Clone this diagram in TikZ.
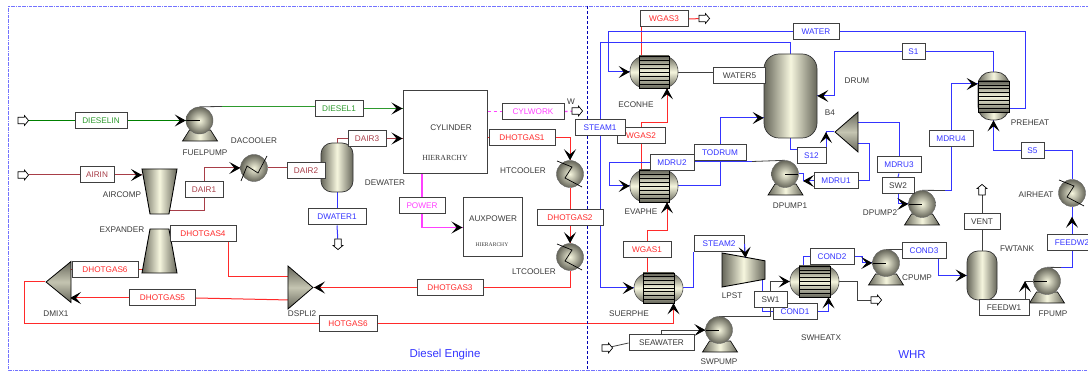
\documentclass[tikz,border=0pt]{standalone}
\usepackage{fontspec}
\setmainfont{Liberation Sans}
\newfontfamily\serifhier{Liberation Serif}
\usepackage{xcolor}
\usetikzlibrary{shapes.geometric,shapes.arrows,arrows.meta,backgrounds,calc,decorations.markings}

\definecolor{unitdark}{HTML}{66665A}
\definecolor{unitlight}{HTML}{F6F6DE}
\definecolor{dieselgreen}{HTML}{2E9A2E}
\definecolor{airbrown}{HTML}{A83E48}
\definecolor{hotred}{HTML}{FF2A2A}
\definecolor{waterblue}{HTML}{3434FF}
\definecolor{workpink}{HTML}{FF40FF}
\definecolor{tagtext}{HTML}{3A3A3A}

% Draws the zigzag that crosses a cooler
\newcommand{\coolerzig}[2]{\draw[black,line width=0.7pt,shift={(#1.center)},rotate=#2] (-13,13) -- (-7,-2) -- (4,5) -- (13,-12);}

\begin{document}
\begin{tikzpicture}[x=1pt, y=-1pt, font=\fontsize{8.2}{9.8}\selectfont,
    streamtag/.style={draw=black!75, fill=white, line width=1pt, minimum height=16pt, inner sep=0pt},
    tagdiesel/.style={streamtag, text=dieselgreen},
    tagair/.style={streamtag, text=airbrown},
    taghot/.style={streamtag, text=hotred},
    tagblue/.style={streamtag, text=waterblue},
    tagpink/.style={streamtag, text=workpink},
    tagplain/.style={streamtag, text=tagtext},
    unitname/.style={text=tagtext, inner sep=0pt},
    block/.style={draw=black!75, fill=white, line width=1pt, inner sep=0pt},
    ballunit/.style={circle, draw=black!60, inner color=unitlight, outer color=unitdark, minimum size=#1, inner sep=0pt},
    ballunit/.default=27pt,
    pumpleft/.style={ballunit, path picture={\draw[black,line width=0.6pt] (path picture bounding box.center) -- (path picture bounding box.west);}},
    pumpright/.style={ballunit, path picture={\draw[black,line width=0.6pt] (path picture bounding box.center) -- (path picture bounding box.east);}},
    pumpbase/.style={trapezium, trapezium stretches=true, trapezium left angle=71.6, trapezium right angle=71.6, draw=black, line width=0.6pt,
        minimum width=35pt, minimum height=11pt, inner sep=0.5pt, left color=unitdark, right color=unitdark, middle color=unitlight},
    cone/.style={trapezium, trapezium stretches=true, trapezium left angle=67, trapezium right angle=67, draw=black, line width=0.9pt,
        inner sep=0.5pt, left color=unitdark, right color=unitdark, middle color=unitlight},
    wedge/.style={isosceles triangle, isosceles triangle stretches, shape border rotate=180, anchor=apex, draw=black, line width=0.8pt,
        inner sep=0.5pt, top color=unitdark, bottom color=unitdark, middle color=unitlight!80!black},
    vesselunit/.style={rectangle, rounded corners=#1, draw=black!80, line width=0.7pt, inner sep=0pt,
        left color=unitdark, right color=unitdark, middle color=unitlight},
    shellunit/.style={rectangle, rounded corners=15pt, draw=black!70, line width=0.6pt, inner sep=0pt,
        top color=unitdark, bottom color=unitdark, middle color=unitlight},
    tubes/.style={rectangle, inner sep=0pt, draw=black, line width=0.6pt, top color=unitdark, bottom color=unitdark, middle color=unitlight,
        path picture={\foreach \i in {1,...,7}
            \draw[black,line width=0.7pt] ($(path picture bounding box.south west)!\i/8!(path picture bounding box.north west)$)
                -- ($(path picture bounding box.south east)!\i/8!(path picture bounding box.north east)$);}},
    portarrow/.style={single arrow, draw=black, fill=white, line width=0.7pt, minimum width=10pt, minimum height=10.5pt,
        single arrow head extend=1.8pt, single arrow tip angle=100, inner sep=2.8pt},
    flow/.style={line width=1pt},
    dieselflow/.style={flow, draw=green!50!black},
    paleflow/.style={flow, draw=dieselgreen},
    airflow/.style={flow, draw=airbrown},
    hotflow/.style={flow, draw=hotred},
    blueflow/.style={flow, draw=waterblue},
    workflow/.style={line width=1.3pt, draw=workpink},
    blackflow/.style={line width=0.8pt, draw=black!75},
    feed/.style={decoration={markings, mark=at position 1 with {\arrow{Stealth[length=11pt,width=12pt,inset=5pt,color=black]}}}, postaction={decorate}}]

\useasboundingbox (0,0) rectangle (1088,371);

% Frame and divider
\draw[blue!55, densely dashdotted, line width=0.6pt] (1090,6) -- (8,6) -- (8,370) -- (1090,370);
\draw[blue!70!black, densely dashed, line width=0.7pt] (587,6) -- (587,370);
\node (dieselarea) at (445,355) [text=waterblue, font=\fontsize{11.5}{14}\selectfont] {Diesel Engine};
\node (whrarea) at (912,355) [text=waterblue, font=\fontsize{11.5}{14}\selectfont] {WHR};

% Feed and product arrows
\node[portarrow] (dieselfeed) at (22,120.5) {};
\node[portarrow] (airfeed) at (22,175) {};
\node[portarrow] (seafeed) at (606,348) {};
\node[portarrow, rotate=-90] (dwaterout) at (338,243) {};
\node[portarrow] (cylworkout) at (576,111) {};
\node[portarrow] (wgasout) at (703,18.5) {};
\node[portarrow, rotate=90] (ventout) at (982,191) {};
\node[portarrow] (swheatxout) at (875,300) {};

% Diesel engine units
\node[pumpbase] (fuelpumpbase) at (200,135.5) {};
\node[pumpleft] (fuelpump) at (199.5,120.5) {};
\node[ballunit] (dacooler) at (254,168) {};
\coolerzig{dacooler}{0}
\node[cone, rotate=180, minimum width=35pt, minimum height=45pt] (aircomp) at (159.5,191.5) {};
\node[cone, minimum width=35pt, minimum height=44pt] (expander) at (159.5,251) {};
\node[wedge, minimum width=41pt, minimum height=25pt] (dmix1) at (45,282) {};
\node[wedge, shape border rotate=0, minimum width=43pt, minimum height=25pt] (dspli2) at (314,287.5) {};
\node[vesselunit=11pt, minimum width=32pt, minimum height=49pt] (dewater) at (337,167.5) {};
\node[block, minimum width=84pt, minimum height=83pt] (cylinder) at (445,132.5) {};
\node[block, minimum width=59pt, minimum height=59pt] (auxpower) at (492.5,227.5) {};
\node[ballunit] (htcooler) at (570,174) {};
\coolerzig{htcooler}{-90}
\node[ballunit] (ltcooler) at (570,257) {};
\coolerzig{ltcooler}{-90}

% WHR units
\node[shellunit, minimum width=48pt, minimum height=32pt] (econhe) at (654,72) {};
\node[tubes, minimum width=30pt, minimum height=32pt] (econhetubes) at (654,72) {};
\node[shellunit, minimum width=48pt, minimum height=32pt] (evaphe) at (654,186) {};
\node[tubes, minimum width=30pt, minimum height=32pt] (evaphetubes) at (654,186) {};
\node[shellunit, minimum width=49pt, minimum height=30pt] (suerphe) at (658.5,288) {};
\node[tubes, minimum width=31pt, minimum height=30pt] (suerphetubes) at (658.5,288) {};
\node[shellunit, minimum width=49pt, minimum height=31pt] (swheatx) at (814.5,281.5) {};
\node[tubes, minimum width=31pt, minimum height=31pt] (swheatxtubes) at (814.5,281.5) {};
\node[vesselunit=15pt, minimum width=53pt, minimum height=84pt] (drum) at (790.5,96) {};
\node[vesselunit=13pt, minimum width=31pt, minimum height=48pt] (preheat) at (993.5,96) {};
\node[tubes, rotate=90, minimum width=31pt, minimum height=31pt] (preheattubes) at (993.5,96.5) {};
\node[vesselunit=11pt, minimum width=30pt, minimum height=49pt] (fwtank) at (982,275.5) {};
\node[cone, rotate=-90, minimum width=34pt, minimum height=43pt] (lpst) at (743.5,270) {};
\node[wedge, minimum width=40pt, minimum height=23pt] (b4) at (834,132) {};
\node[pumpbase] (dpump1base) at (785.5,189.5) {};
\node[pumpright] (dpump1) at (785,174) {};
\node[pumpbase] (dpump2base) at (922,219.5) {};
\node[pumpleft] (dpump2) at (922,204) {};
\node[pumpbase] (cpumpbase) at (886,279.5) {};
\node[pumpleft] (cpump) at (886,263) {};
\node[pumpbase] (swpumpbase) at (720,346.5) {};
\node[pumpleft] (swpump) at (719,330) {};
\node[pumpbase] (fpumpbase) at (1047,297.5) {};
\node[pumpleft] (fpump) at (1047,281) {};
\node[ballunit] (airheat) at (1072,193) {};
\coolerzig{airheat}{-90}

% Stream tags, diesel side
\node[tagdiesel, minimum width=52pt] (dieselin) at (101,120.5) {DIESELIN};
\node[tagdiesel, minimum width=48pt] (diesel1) at (339,108.5) {DIESEL1};
\node[tagair, minimum width=34pt] (airin) at (97,175) {AIRIN};
\node[tagair, minimum width=38pt] (dair1) at (204,190) {DAIR1};
\node[tagair, minimum width=38pt] (dair2) at (306,170.5) {DAIR2};
\node[tagair, minimum width=38pt] (dair3) at (367,138.5) {DAIR3};
\node[tagblue, minimum width=58pt] (dwater1) at (337,217) {DWATER1};
\node[tagpink, minimum width=46pt] (power) at (422,206) {POWER};
\node[tagpink, minimum width=62pt] (cylwork) at (533,111.5) {CYLWORK};
\node[taghot, minimum width=66pt] (dhotgas1) at (522,138) {DHOTGAS1};
\node[taghot, minimum width=66pt] (dhotgas2) at (570,218) {DHOTGAS2};
\node[taghot, minimum width=66pt] (dhotgas3) at (450,287.5) {DHOTGAS3};
\node[taghot, minimum width=66pt] (dhotgas4) at (203,234) {DHOTGAS4};
\node[taghot, minimum width=66pt] (dhotgas5) at (162.5,298) {DHOTGAS5};
\node[taghot, minimum width=66pt] (dhotgas6) at (105,270) {DHOTGAS6};
\node[taghot, minimum width=58pt] (hotgas6) at (348,324) {HOTGAS6};

% Stream tags, WHR side
\node[taghot, minimum width=48pt] (wgas3) at (664,19) {WGAS3};
\node[taghot, minimum width=48pt] (wgas2) at (641,136) {WGAS2};
\node[taghot, minimum width=48pt] (wgas1) at (647,250) {WGAS1};
\node[tagblue, minimum width=46pt] (water) at (816,31.5) {WATER};
\node[tagplain, minimum width=52pt] (water5) at (739.5,76) {WATER5};
\node[tagblue, minimum width=50pt] (steam1) at (600,128) {STEAM1};
\node[tagblue, minimum width=50pt] (steam2) at (719,244) {STEAM2};
\node[tagblue, minimum width=44pt] (mdru2) at (672,163) {MDRU2};
\node[tagblue, minimum width=52pt] (todrum) at (720,153) {TODRUM};
\node[tagblue, minimum width=29pt] (s12) at (811.5,156) {S12};
\node[tagblue, minimum width=44pt] (mdru1) at (836,181) {MDRU1};
\node[tagblue, minimum width=23pt] (s1) at (913.5,52) {S1};
\node[tagblue, minimum width=44pt] (mdru3) at (899,165) {MDRU3};
\node[tagplain, minimum width=32pt] (sw2) at (898,185.5) {SW2};
\node[tagblue, minimum width=44pt] (mdru4) at (951,139) {MDRU4};
\node[tagblue, minimum width=23pt] (s5) at (1032.5,151) {S5};
\node[tagblue, minimum width=44pt] (cond3) at (924,251) {COND3};
\node[tagblue, minimum width=44pt] (cond2) at (832,257) {COND2};
\node[tagblue, minimum width=44pt] (cond1) at (795,312) {COND1};
\node[tagplain, minimum width=33pt] (sw1) at (770.5,300) {SW1};
\node[tagplain, minimum width=65pt] (seawater) at (661.5,343) {SEAWATER};
\node[tagplain, minimum width=36pt] (vent) at (982,222) {VENT};
\node[tagplain, minimum width=50pt] (feedw1) at (1004,308) {FEEDW1};
\node[tagblue, minimum width=50pt] (feedw2) at (1072,243) {FEEDW2};

% Unit names
\node[unitname] (fuelpumpname) at (205,153) {FUELPUMP};
\node[unitname] (dacoolername) at (254,141) {DACOOLER};
\node[unitname] (aircompname) at (122,195) {AIRCOMP};
\node[unitname] (expandername) at (122,230) {EXPANDER};
\node[unitname] (dmixname) at (56,314) {DMIX1};
\node[unitname] (dspliname) at (302,314) {DSPLI2};
\node[unitname] (dewatername) at (385,183) {DEWATER};
\node[unitname] (cylindername) at (451,128) {CYLINDER};
\node[unitname, font=\serifhier\fontsize{7.8}{9}\selectfont] (hierone) at (445,158) {HIERARCHY};
\node[unitname] (auxname) at (493,219) {AUXPOWER};
\node[unitname, font=\serifhier\fontsize{5.6}{7}\selectfont] (hiertwo) at (492,245) {HIERARCHY};
\node[unitname] (wname) at (571,102) {W};
\node[unitname] (htname) at (523,171) {HTCOOLER};
\node[unitname] (ltname) at (534,272) {LTCOOLER};
\node[unitname] (econame) at (636,105) {ECONHE};
\node[unitname] (drumname) at (857,81) {DRUM};
\node[unitname] (bfourname) at (830,113) {B4};
\node[unitname] (evaname) at (641,212) {EVAPHE};
\node[unitname] (dponename) at (790,206) {DPUMP1};
\node[unitname] (dptwoname) at (880,213) {DPUMP2};
\node[unitname] (lpstname) at (732,296) {LPST};
\node[unitname] (suername) at (629,314) {SUERPHE};
\node[unitname] (swxname) at (821,338) {SWHEATX};
\node[unitname] (swpname) at (719,362) {SWPUMP};
\node[unitname] (cpname) at (917,278) {CPUMP};
\node[unitname] (fwname) at (1017,249) {FWTANK};
\node[unitname] (fpname) at (1053,314) {FPUMP};
\node[unitname] (prename) at (1030,123) {PREHEAT};
\node[unitname] (ahname) at (1036,195) {AIRHEAT};

% Ports and bends on the units
\coordinate (aircompin) at (142,175);
\coordinate (aircompout) at (169,211);
\coordinate (expanderout) at (142,270);
\coordinate (dmixlow) at (70,298);
\coordinate (dmixup) at (70,270);
\coordinate (dspliup) at (290,277);
\coordinate (dsplilow) at (290,300);
\coordinate (hotgasbend) at (24,324);
\coordinate (fuelbreak) at (222,106.5);
\coordinate (b4turn) at (826,132);
\coordinate (b4up) at (857,123);
\coordinate (b4low) at (857,144);
\coordinate (mdruoneturn) at (869,144);
\coordinate (mdruonetip) at (803,181);
\coordinate (mdrutwobreak) at (752,161.5);
\coordinate (mdrutwoturn) at (609,163);
\coordinate (waterbend) at (1025,31.5);
\coordinate (waterturn) at (608,31.5);
\coordinate (sturn) at (834,52);
\coordinate (mdrufourbreak) at (945,190.5);
\coordinate (condtwoturn) at (862,257);
\coordinate (lpstout) at (762,279);
\coordinate (swheatxturn) at (857,281.5);
\coordinate (fpumptip) at (1025,281);
\coordinate (fpumpbreak) at (1061,267.5);

\begin{scope}[on background layer]
% Fuel and air
\draw[dieselflow] (dieselfeed) -- (dieselin);
\draw[dieselflow,feed] (dieselin) -- (fuelpump.west);
\draw[blackflow] (fuelpump.north) -- (fuelbreak);
\draw[paleflow] (fuelbreak) -- (diesel1.west |- fuelbreak);
\draw[paleflow,feed] (diesel1.east) -- (cylinder.west |- diesel1.east);
\draw[airflow] (airfeed) -- (airin);
\draw[airflow,feed] (airin) -- (aircompin);
\draw[airflow] (aircompout) -| (dair1.south);
\draw[airflow,feed] (dair1.north) |- (dacooler.west);
\draw[airflow] (dacooler.east) -- (dair2.west |- dacooler.east);
\draw[airflow] (dair2.east) -- (dewater.west |- dair2.east);
\draw[airflow] (dewater.north) |- (dair3.west);
\draw[airflow,feed] (dair3.east) -- (cylinder.west |- dair3.east);
\draw[blueflow] (dewater.south) -- (dwater1.north);
\draw[blueflow] (dwater1.south) -- (dwaterout);
% Work and power
\draw[workflow] (cylinder.south -| power.north) -- (power.north);
\draw[workflow,feed] (power.south) |- (auxpower.west);
\draw[workflow,dashed] (cylinder.east |- cylwork.west) -- (cylwork.west);
\draw[workflow,dashed] (cylwork.east) -- (cylworkout);
% Hot gas
\draw[hotflow] (cylinder.east |- dhotgas1.west) -- (dhotgas1.west);
\draw[hotflow,feed] (dhotgas1.east) -| (htcooler.north);
\draw[hotflow] (htcooler.south) -- (dhotgas2.north);
\draw[hotflow,feed] (dhotgas2.south) -- (ltcooler.north);
\draw[hotflow] (ltcooler.south) |- (dhotgas3.east);
\draw[hotflow,feed] (dhotgas3.west) -- (dspli2.apex);
\draw[hotflow] (dspliup) -| ([xshift=25pt]dhotgas4.south);
\draw[hotflow] (dsplilow) -- (dhotgas5.east);
\draw[hotflow,feed] (dhotgas5.west) -- (dmixlow);
\draw[hotflow] (expanderout) -- (dhotgas6.east);
\draw[hotflow] (dhotgas6.west) -- (dmixup);
\draw[hotflow] (dmix1.apex) -| (hotgasbend) -- (hotgas6.west);
\draw[hotflow,feed] (hotgas6.east) -| ([xshift=15pt]suerphe.south);
\draw[hotflow] (wgas1.south) -- (wgas1.south |- suerphe.north);
\draw[hotflow,feed] (wgas1.north) -- ++(0,-11) -| ([xshift=13pt]evaphe.south);
\draw[hotflow] (wgas2.south) -- (wgas2.south |- evaphe.north);
\draw[hotflow,feed] (wgas2.north) -- ++(0,-5) -| ([xshift=13pt]econhe.south);
\draw[hotflow] ([xshift=-13pt]econhe.north) -- ([xshift=-23pt]wgas3.south);
\draw[hotflow] (wgas3.east) -- (wgasout);
% Steam and water
\draw[blueflow] (drum.north) -- ++(0,-11) -| (steam1.north);
\draw[blueflow,feed] (steam1.south) |- (suerphe.west);
\draw[blueflow] (suerphe.east) -| (steam2.south west);
\draw[blueflow] ([yshift=-13pt]preheat.east) -| (waterbend) -- (water.east);
\draw[blueflow,feed] (water.west) -- (waterturn) |- (econhe.west);
\draw[blackflow] (econhe.east) -- (water5.west |- econhe.east);
\draw[blueflow] (evaphe.east) -| (todrum.south);
\draw[blueflow,feed] (todrum.north) |- ([yshift=-22pt]drum.west);
\draw[blackflow] (dpump1.north) -- (mdrutwobreak);
\draw[blueflow] (mdrutwobreak) -- (mdru2.east |- mdrutwobreak);
\draw[blueflow,feed] (mdru2.west) -- (mdrutwoturn) |- (evaphe.west);
\draw[blueflow] (drum.south) |- ([yshift=6pt]s12.west);
\draw[blueflow] (b4.apex) -- (b4turn);
\draw[blueflow,feed] ([xshift=14.5pt]s12.north) -- (b4turn);
\draw[blueflow] (preheat.north) |- (s1.east);
\draw[blueflow,feed] (s1.west) -- (sturn) |- (drum.east);
\draw[blueflow] (b4up) -| (mdru3.north);
\draw[blueflow] (mdru3.south) -- (sw2.north);
\draw[blueflow,feed] (sw2.south) |- (dpump2.west);
\draw[blueflow] (b4low) -- (mdruoneturn) |- (mdru1.east);
\draw[blueflow,feed] (mdru1.west) -- (mdruonetip);
\draw[blueflow] (mdruonetip) |- (dpump1.east);
\draw[blackflow] (dpump2.north) -- (mdrufourbreak);
\draw[blueflow] (mdrufourbreak) -| (mdru4.south);
\draw[blueflow,feed] (mdru4.north) |- ([yshift=12pt]preheat.west);
\draw[blueflow] (airheat.north) |- (s5.east);
\draw[blueflow,feed] (s5.west) -| (preheat.south);
\draw[blueflow] (fpumpbreak) -| (feedw2.south);
\draw[blackflow] (fpump.north) -- (fpumpbreak);
\draw[blueflow] (feedw2.north) -- (airheat.south);
\draw[blueflow,feed] (feedw2.north) -- ([yshift=-10pt]airheat.south);
% Feedwater loop
\draw[blackflow,feed] ([xshift=21pt]feedw1.north) -- (fpumptip);
\draw[blackflow] (fpumptip) -- (fpump.west);
\draw[blackflow] (fwtank.north) -- (vent.south);
\draw[blackflow] (vent.north) -- (ventout);
\draw[blackflow] (cpump.north) -- (cond3.west |- cpump.north);
\draw[blueflow,feed] ([xshift=14pt]cond3.south) |- (fwtank.west);
\draw[blueflow] ([xshift=-11pt]swheatx.north) |- (cond2.west);
\draw[blueflow,feed] (cond2.east) -- (condtwoturn) |- (cpump.west);
\draw[blueflow] (lpstout) |- (cond1.west);
\draw[blueflow,feed] (cond1.east) -| ([xshift=14pt]swheatx.south);
\draw[blackflow] (swpump.north) -| (sw1.south);
\draw[blackflow,feed] (sw1.north) |- (swheatx.west);
\draw[blackflow] (seafeed) -- (seawater.west);
\draw[blackflow,feed] (seawater.north) |- (swpump.west);
\draw[blackflow] (swheatx.east) -- (swheatxturn) |- (swheatxout);
\end{scope}

% Steam into the turbine crosses the tag
\draw[blueflow,feed] (steam2.east) -- (745.5,258);

\end{tikzpicture}
\end{document}
